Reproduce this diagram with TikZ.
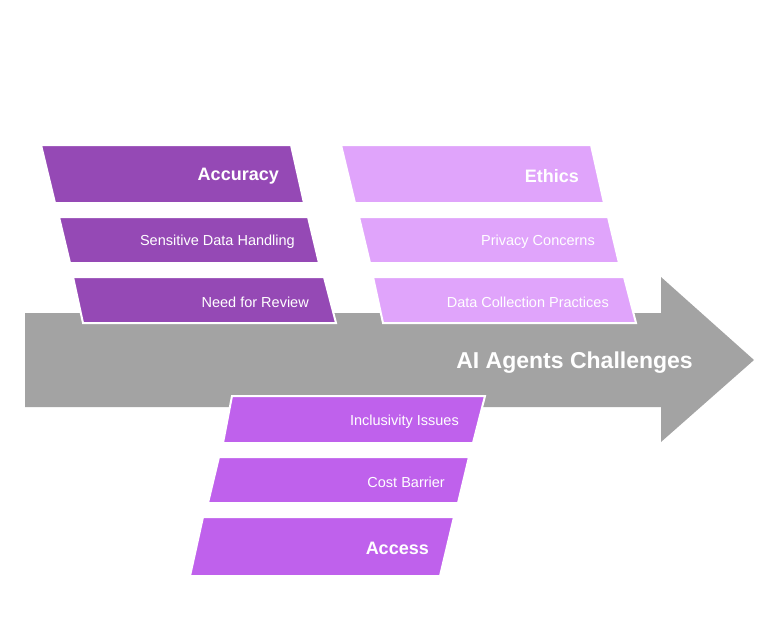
\documentclass[tikz,border=0pt]{standalone}
\usepackage{fontspec}
\setmainfont{Liberation Sans}
\definecolor{accc}{RGB}{149,73,181}
\definecolor{ethc}{RGB}{224,164,251}
\definecolor{acsc}{RGB}{191,97,236}
\definecolor{arrc}{RGB}{163,163,163}
\begin{document}
\begin{tikzpicture}[x=1pt,y=-1pt,
  shapebox/.style={draw=white,line width=2pt,line join=miter},
  bigtxt/.style={text=white,font=\fontsize{18}{21}\selectfont\bfseries,anchor=east,inner sep=0pt,yshift=-2pt},
  smalltxt/.style={text=white,font=\fontsize{14.5}{17}\selectfont,anchor=east,inner sep=0pt,yshift=-2pt},
  titletxt/.style={text=white,font=\fontsize{23}{27}\selectfont\bfseries,anchor=east,inner sep=0pt,yshift=-2.5pt}]
\path[use as bounding box] (0,0) rectangle (780,626);
% arrow
\fill[arrc] (25,313) -- (661,313) -- (661,277) -- (754,360) -- (661,442) -- (661,407) -- (25,407) -- cycle;
\node[titletxt] (title) at (693,360) {AI Agents Challenges};
% Accuracy group
\filldraw[accc,shapebox] (41,145) -- (291,145) -- (304,203) -- (55,203) -- cycle;
\filldraw[accc,shapebox] (59,217) -- (308,217) -- (319,263) -- (70,263) -- cycle;
\filldraw[accc,shapebox] (73,277) -- (324,277) -- (336,323) -- (83,323) -- cycle;
\node[bigtxt] (accuracy) at (279,174) {Accuracy};
\node[smalltxt] (sdh) at (295,240) {Sensitive Data Handling};
\node[smalltxt] (nfr) at (309,300) {Need for Review};
% Ethics group
\filldraw[ethc,shapebox] (341,145) -- (591,145) -- (604,203) -- (355,203) -- cycle;
\filldraw[ethc,shapebox] (359,217) -- (608,217) -- (619,263) -- (370,263) -- cycle;
\filldraw[ethc,shapebox] (373,277) -- (624,277) -- (636,323) -- (383,323) -- cycle;
\node[bigtxt] (ethics) at (579,174) {Ethics};
\node[smalltxt] (pc) at (595,240) {Privacy Concerns};
\node[smalltxt] (dcp) at (609,300) {Data Collection Practices};
% Access group
\filldraw[acsc,shapebox] (232,396) -- (485,396) -- (473,443) -- (223,443) -- cycle;
\filldraw[acsc,shapebox] (219,457) -- (469,457) -- (458,503) -- (208,503) -- cycle;
\filldraw[acsc,shapebox] (203,517) -- (454,517) -- (440,576) -- (190,576) -- cycle;
\node[smalltxt] (ii) at (459,420) {Inclusivity Issues};
\node[smalltxt] (cb) at (445,480) {Cost Barrier};
\node[bigtxt] (access) at (429,546) {Access};
\end{tikzpicture}
\end{document}
